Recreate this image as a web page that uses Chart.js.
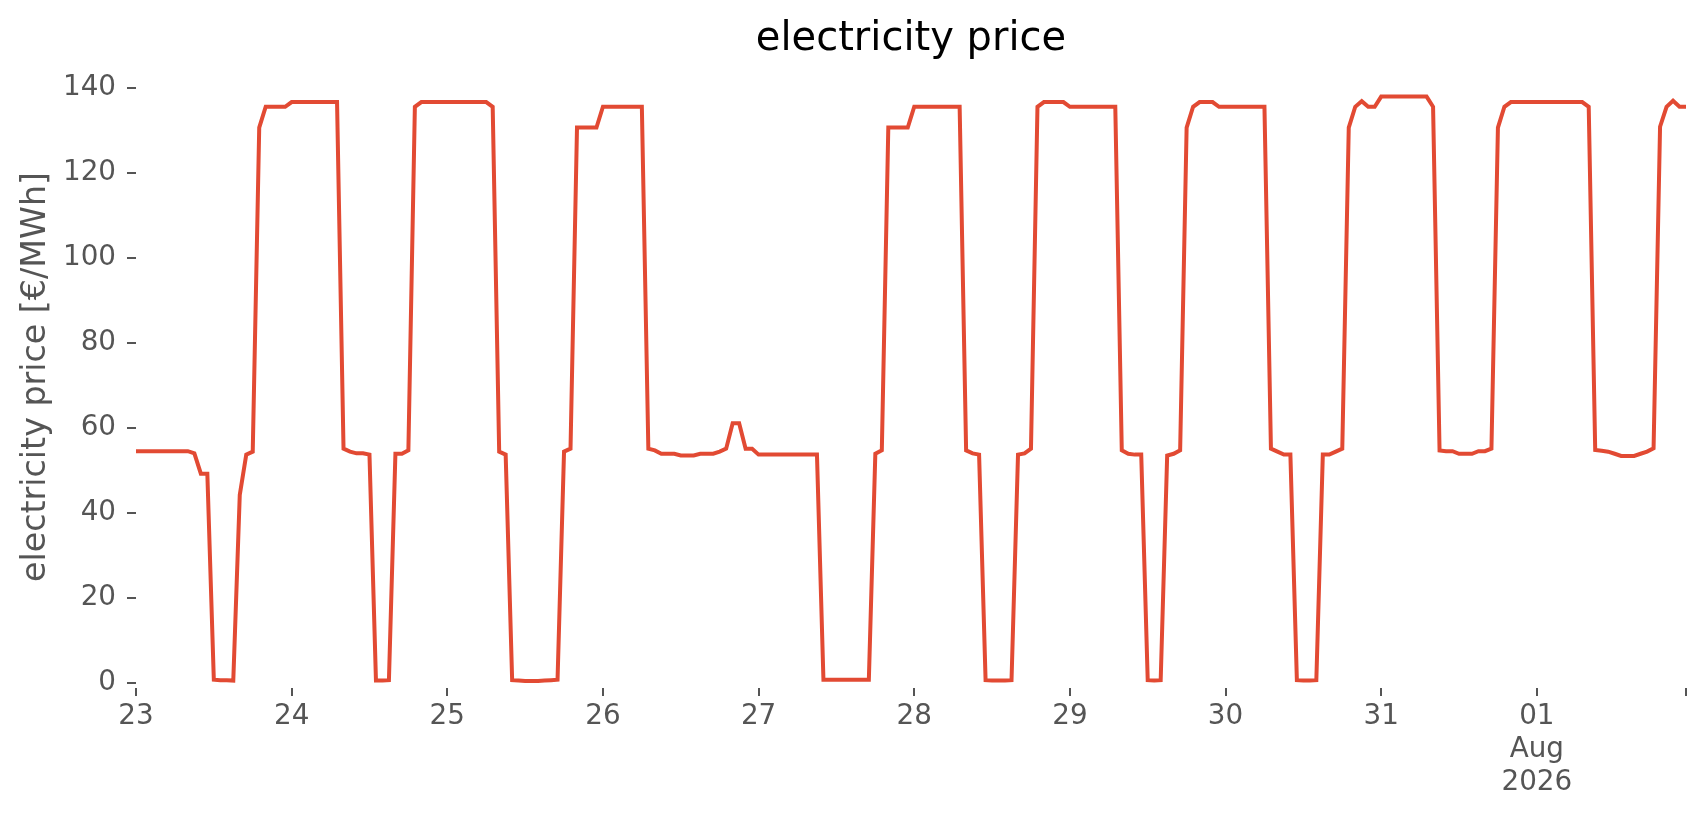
<!DOCTYPE html>
<html>
<head>
<meta charset="utf-8">
<title>electricity price</title>
<script src="https://cdn.jsdelivr.net/npm/chart.js@4.4.1/dist/chart.umd.min.js"></script>
<style>
  html, body { margin: 0; padding: 0; background: #fff; }
  canvas { display: block; }
</style>
</head>
<body>
<canvas id="chart" width="1706" height="815"></canvas>
<script>
// hourly prices in €/MWh, one array per day (00:00 .. 23:00)
const jul23 = [54.5, 54.5, 54.5, 54.5, 54.5, 54.5, 54.5, 54.5, 54.5, 54.0, 49.2, 49.2,
               0.7, 0.6, 0.6, 0.5, 44.2, 53.7, 54.4, 130.7, 135.6, 135.6, 135.6, 135.6];
const jul24 = [136.7, 136.7, 136.7, 136.7, 136.7, 136.7, 136.7, 136.7, 55.1, 54.4, 54.0, 54.0,
               53.7, 0.5, 0.5, 0.6, 53.9, 53.9, 54.7, 135.6, 136.7, 136.7, 136.7, 136.7];
const jul25 = [136.7, 136.7, 136.7, 136.7, 136.7, 136.7, 136.7, 135.6, 54.4, 53.7, 0.6, 0.5,
               0.4, 0.4, 0.4, 0.5, 0.6, 0.7, 54.4, 55.1, 130.7, 130.7, 130.7, 130.7];
const jul26 = [135.6, 135.6, 135.6, 135.6, 135.6, 135.6, 135.6, 55.1, 54.7, 53.9, 53.9, 53.9,
               53.5, 53.5, 53.5, 53.9, 53.9, 53.9, 54.4, 55.1, 61.1, 61.1, 55.1, 55.1];
const jul27 = [53.7, 53.7, 53.7, 53.7, 53.7, 53.7, 53.7, 53.7, 53.7, 53.7, 0.7, 0.7,
               0.7, 0.7, 0.7, 0.7, 0.7, 0.7, 53.9, 54.7, 130.7, 130.7, 130.7, 130.7];
const jul28 = [135.6, 135.6, 135.6, 135.6, 135.6, 135.6, 135.6, 135.6, 54.7, 54.0, 53.7, 0.6,
               0.5, 0.5, 0.5, 0.6, 53.7, 54.0, 55.1, 135.6, 136.7, 136.7, 136.7, 136.7];
const jul29 = [135.6, 135.6, 135.6, 135.6, 135.6, 135.6, 135.6, 135.6, 54.7, 53.9, 53.7, 53.7,
               0.6, 0.5, 0.6, 53.5, 53.9, 54.7, 130.7, 135.6, 136.7, 136.7, 136.7, 135.6];
const jul30 = [135.6, 135.6, 135.6, 135.6, 135.6, 135.6, 135.6, 55.1, 54.4, 53.7, 53.7, 0.6,
               0.5, 0.5, 0.6, 53.7, 53.7, 54.4, 55.1, 130.7, 135.6, 136.9, 135.6, 135.6];
const jul31 = [138.0, 138.0, 138.0, 138.0, 138.0, 138.0, 138.0, 138.0, 135.6, 54.7, 54.5, 54.5,
               53.9, 53.9, 53.9, 54.5, 54.5, 55.1, 130.7, 135.6, 136.7, 136.7, 136.7, 136.7];
const aug01 = [136.7, 136.7, 136.7, 136.7, 136.7, 136.7, 136.7, 136.7, 135.6, 54.8, 54.6, 54.4,
               53.9, 53.4, 53.4, 53.4, 53.9, 54.4, 55.2, 130.9, 135.6, 137.0, 135.6, 135.6];

const days = [jul23, jul24, jul25, jul26, jul27, jul28, jul29, jul30, jul31, aug01];
const dayLabels = ['23', '24', '25', '26', '27', '28', '29', '30', '31', ['01', 'Aug', '2026']];
const yTicks = [0, 20, 40, 60, 80, 100, 120, 140];

// x = hours since 23 Jul 00:00
const points = [];
days.forEach((day, d) => day.forEach((v, h) => points.push({ x: d * 24 + h, y: v })));
const lastHour = points.length - 1;
const xTicks = dayLabels.map((_, d) => d * 24).concat([lastHour]);

Chart.defaults.font.family = 'DejaVu Sans';
Chart.defaults.color = '#555555';

const tickFont = { size: 27.8 };
const tickGrid = { drawOnChartArea: false, drawTicks: true, color: '#555555', lineWidth: 2 };

// centre the title over the plot area instead of the whole canvas
const titleOverPlot = {
  id: 'titleOverPlot',
  afterLayout(chart) {
    if (chart.titleBlock) {
      chart.titleBlock.left = chart.chartArea.left;
      chart.titleBlock.right = chart.chartArea.right;
    }
  }
};

new Chart(document.getElementById('chart').getContext('2d'), {
  type: 'line',
  data: {
    datasets: [{
      label: 'electricity price',
      data: points,
      borderColor: '#E24A33',
      borderWidth: 4,
      pointRadius: 0,
      tension: 0,
      fill: false
    }]
  },
  plugins: [titleOverPlot],
  options: {
    responsive: false,
    devicePixelRatio: 1,
    animation: false,
    layout: { padding: { right: 20 } },
    plugins: {
      legend: { display: false },
      tooltip: { enabled: false },
      title: {
        display: true,
        text: 'electricity price',
        color: '#000000',
        font: { size: 40, weight: 'normal' },
        padding: { top: 16, bottom: 2 }
      }
    },
    scales: {
      x: {
        type: 'linear',
        min: 0,
        max: lastHour,
        afterBuildTicks: (axis) => { axis.ticks = xTicks.map(v => ({ value: v })); },
        afterFit: (axis) => { axis.height = 127; },
        ticks: {
          autoSkip: false,
          maxRotation: 0,
          minRotation: 0,
          padding: 5,
          font: { size: 27.8, lineHeight: 1.17 },
          callback: (v) => {
            const i = xTicks.indexOf(v);
            return i < dayLabels.length ? dayLabels[i] : '';
          }
        },
        grid: Object.assign({ tickLength: 8 }, tickGrid),
        border: { display: false }
      },
      y: {
        min: -1.25,
        max: 145.2,
        afterBuildTicks: (axis) => { axis.ticks = yTicks.map(v => ({ value: v })); },
        afterFit: (axis) => { axis.width = 136; },
        ticks: { padding: 11, font: tickFont },
        grid: Object.assign({ tickLength: 9 }, tickGrid),
        border: { display: false },
        title: {
          display: true,
          text: 'electricity price [€/MWh]',
          color: '#555555',
          font: { size: 33.3 },
          padding: { top: 16, bottom: 0 }
        }
      }
    }
  }
});
</script>
</body>
</html>
